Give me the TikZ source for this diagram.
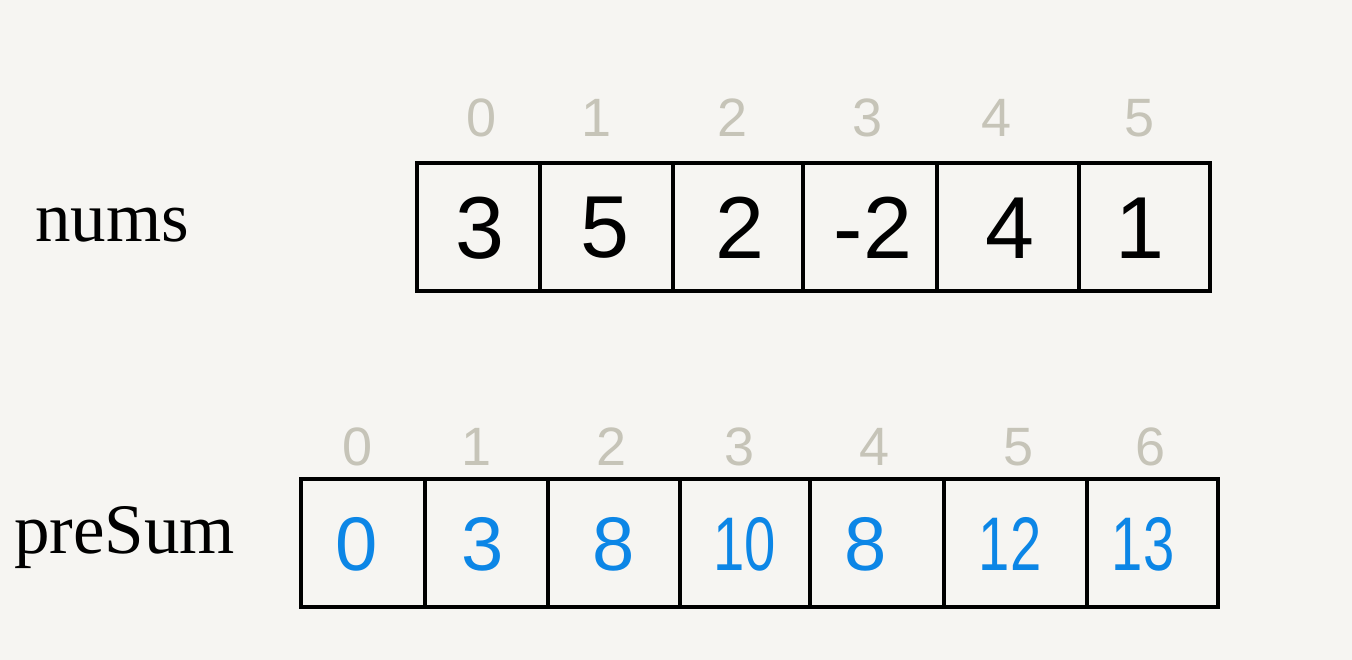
\documentclass[tikz,border=0pt]{standalone}
\usepackage{fontspec}
\newfontfamily\hand{Liberation Sans}
\newfontfamily\lblfont{Liberation Serif}
\definecolor{paper}{HTML}{F6F5F2}
\definecolor{idxgray}{HTML}{C6C4B8}
\definecolor{valblue}{HTML}{0C86E6}
\newcommand{\narrow}[1]{\scalebox{0.74}[1]{#1}}
\begin{document}
\begin{tikzpicture}[x=1pt,y=-1pt,
  cell/.style={draw=black,line width=3.8pt,inner sep=0pt,outer sep=0pt},
  topval/.style={inner sep=0pt,font=\hand\fontsize{88}{90}\selectfont,text=black},
  botval/.style={inner sep=0pt,font=\hand\fontsize{76}{78}\selectfont,text=valblue},
  idx/.style={inner sep=0pt,font=\hand\fontsize{54}{56}\selectfont,text=idxgray},
  lbl/.style={inner sep=0pt,font=\lblfont\fontsize{71}{74}\selectfont,text=black}]
\fill[paper] (0,0) rectangle (1352,660);
\useasboundingbox (0,0) rectangle (1352,660);
% top array
\foreach \a/\b/\i in {417/540/0,540/673/1,673/803/2,803/937/3,937/1079/4,1079/1210/5}{
  \node[cell,minimum width={(\b-\a)*1pt},minimum height=128pt] (t\i) at ({(\a+\b)/2},227) {};
}
\foreach \x/\v/\i in {480/3/0,605/5/1,740/2/2,873/-2/3,1010/4/4,1140/1/5}{
  \node[topval] (tv\i) at (\x,228) {\v};
}
\foreach \x/\i in {482/0,597/1,733/2,868/3,997/4,1140/5}{
  \node[idx] (ti\i) at (\x,118) {\i};
}
% bottom array
\foreach \a/\b/\i in {301/425/0,425/548/1,548/680/2,680/810/3,810/944/4,944/1087/5,1087/1218/6}{
  \node[cell,minimum width={(\b-\a)*1pt},minimum height=128pt] (b\i) at ({(\a+\b)/2},543) {};
}
\foreach \x/\v/\i in {357/0/0,483/3/1,614/8/2,866/8/4}{
  \node[botval] (bv\i) at (\x,544) {\v};
}
\foreach \x/\v/\i in {745/10/3,1010/12/5,1143/13/6}{
  \node[botval] (bv\i) at (\x,544) {\narrow{\v}};
}
\foreach \x/\i in {358/0,477/1,612/2,740/3,875/4,1019/5,1151/6}{
  \node[idx] (bi\i) at (\x,447) {\i};
}
% labels
\node[lbl,anchor=base west] (nums) at (35,242) {nums};
\node[lbl,anchor=base west] (presum) at (14,553) {preSum};
\end{tikzpicture}
\end{document}
